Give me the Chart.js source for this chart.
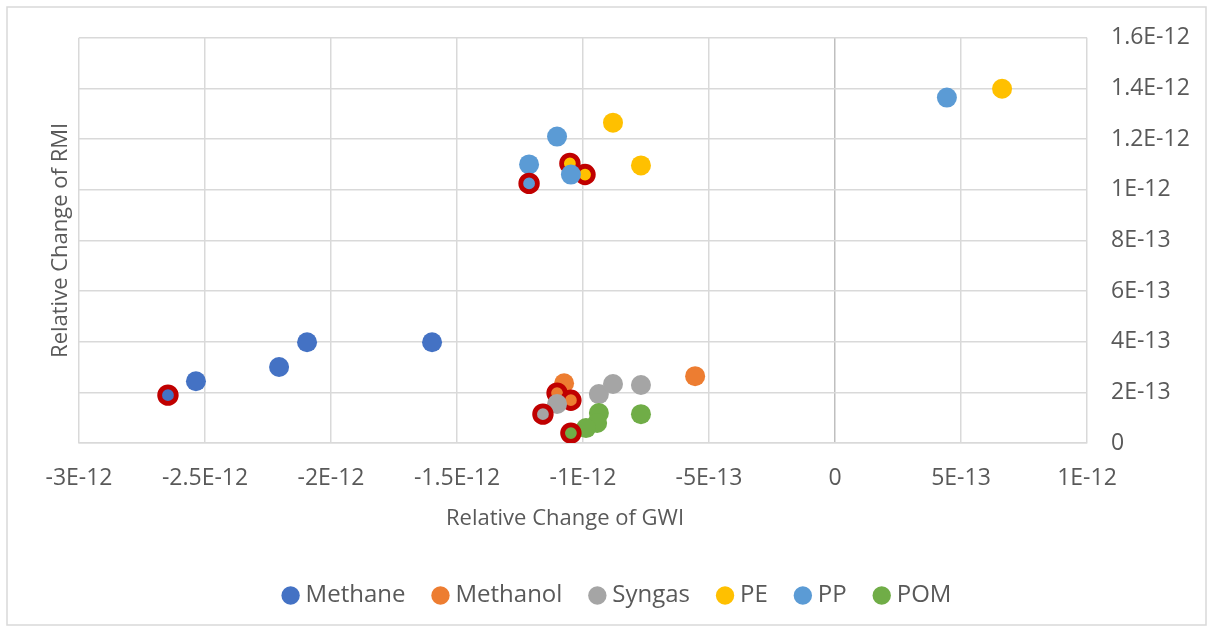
<!DOCTYPE html>
<html>
<head>
<meta charset="utf-8">
<script src="https://cdn.jsdelivr.net/npm/chart.js@4"></script>
<style>
  html, body { margin: 0; padding: 0; background: #fff; }
  canvas { display: block; }
</style>
</head>
<body>
<canvas id="rmiChart" width="1213" height="632"></canvas>
<script>
// Relative change of GWI (x) against relative change of RMI (y), per product route.
// Indices in the *Flagged lists are the points drawn with the dark red ring.
const methaneX = [-2.536e-12, -2.206e-12, -2.095e-12, -1.599e-12, -2.647e-12]
const methaneY = [2.44e-13, 3.0e-13, 3.98e-13, 3.98e-13, 1.89e-13]
const methaneFlagged = [4]

const methanolX = [-0.555e-12, -1.075e-12, -1.103e-12, -1.048e-12]
const methanolY = [2.64e-13, 2.36e-13, 1.97e-13, 1.69e-13]
const methanolFlagged = [2, 3]

const syngasX = [-0.937e-12, -0.881e-12, -0.770e-12, -1.103e-12, -1.159e-12]
const syngasY = [1.93e-13, 2.33e-13, 2.29e-13, 1.54e-13, 1.14e-13]
const syngasFlagged = [4]

const peX = [0.663e-12, -0.881e-12, -0.770e-12, -1.052e-12, -0.992e-12]
const peY = [1.399e-12, 1.265e-12, 1.096e-12, 1.104e-12, 1.060e-12]
const peFlagged = [3, 4]

const ppX = [0.444e-12, -1.103e-12, -1.214e-12, -1.048e-12, -1.214e-12]
const ppY = [1.364e-12, 1.210e-12, 1.100e-12, 1.060e-12, 1.025e-12]
const ppFlagged = [4]

const pomX = [-0.770e-12, -0.937e-12, -0.944e-12, -0.988e-12, -1.048e-12]
const pomY = [1.14e-13, 1.18e-13, 0.79e-13, 0.59e-13, 0.39e-13]
const pomFlagged = [4]

const xTickValues = [-3e-12, -2.5e-12, -2e-12, -1.5e-12, -1e-12, -0.5e-12, 0, 0.5e-12, 1e-12]
const xTickLabels = ['-3E-12', '-2.5E-12', '-2E-12', '-1.5E-12', '-1E-12', '-5E-13', '0', '5E-13', '1E-12']
const yTickValues = [0, 0.2e-12, 0.4e-12, 0.6e-12, 0.8e-12, 1e-12, 1.2e-12, 1.4e-12, 1.6e-12]
const yTickLabels = ['0', '2E-13', '4E-13', '6E-13', '8E-13', '1E-12', '1.2E-12', '1.4E-12', '1.6E-12']

const xTitle = 'Relative Change of GWI'
const yTitle = 'Relative Change of RMI'

const series = [
  { label: 'Methane',  xs: methaneX,  ys: methaneY,  flagged: methaneFlagged },
  { label: 'Methanol', xs: methanolX, ys: methanolY, flagged: methanolFlagged },
  { label: 'Syngas',   xs: syngasX,   ys: syngasY,   flagged: syngasFlagged },
  { label: 'PE',       xs: peX,       ys: peY,       flagged: peFlagged },
  { label: 'PP',       xs: ppX,       ys: ppY,       flagged: ppFlagged },
  { label: 'POM',      xs: pomX,      ys: pomY,      flagged: pomFlagged },
]

const COLORS = { Methane: '#4472C4', Methanol: '#ED7D31', Syngas: '#A5A5A5', PE: '#FFC000', PP: '#5B9BD5', POM: '#70AD47' }
const RING = '#C00000'
const GRID = '#d9d9d9'
const TEXT = '#595959'
const TICK_FONT = 23
const TITLE_FONT = 22

Chart.defaults.font.family = "'Open Sans', sans-serif"
Chart.defaults.color = TEXT

// white background + thin outline round the whole chart
const chartFrame = {
  id: 'chartFrame',
  beforeDraw(chart) {
    const { ctx, width, height } = chart
    ctx.save()
    ctx.fillStyle = '#fff'
    ctx.fillRect(0, 0, width, height)
    ctx.strokeStyle = GRID
    ctx.lineWidth = 1.5
    ctx.strokeRect(7, 7, width - 14, height - 14)
    ctx.restore()
  }
}

// GWI title sits a little left of the plot centre, so it is drawn here
// inside the space the x axis reserves for it
const gwiTitle = {
  id: 'gwiTitle',
  afterDraw(chart) {
    const { ctx } = chart
    const sx = chart.scales.x
    ctx.save()
    ctx.font = `${TITLE_FONT}px 'Open Sans', sans-serif`
    ctx.fillStyle = TEXT
    ctx.textAlign = 'center'
    ctx.textBaseline = 'middle'
    ctx.fillText(xTitle, (sx.left + sx.right) / 2 - 18, sx.top + 76)
    ctx.restore()
  }
}

const datasets = series.map((s, i) => {
  const isFlagged = c => s.flagged.includes(c.dataIndex)
  return {
    label: s.label,
    data: s.xs.map((x, k) => ({ x, y: s.ys[k] })),
    backgroundColor: COLORS[s.label],
    borderColor: c => isFlagged(c) ? RING : COLORS[s.label],
    borderWidth: c => isFlagged(c) ? 4.8 : 0,
    pointRadius: c => isFlagged(c) ? 8.3 : 10,
    pointHoverRadius: c => isFlagged(c) ? 8.3 : 10,
    // later series sit on top, like the source workbook
    order: series.length - i,
  }
})

new Chart(document.getElementById('rmiChart'), {
  type: 'scatter',
  data: { datasets },
  plugins: [chartFrame, gwiTitle],
  options: {
    responsive: false,
    animation: false,
    devicePixelRatio: 1,
    // left padding also nudges the centred legend to the right
    layout: { padding: { top: 37, left: 26, right: 0, bottom: 20.5 } },
    plugins: {
      tooltip: { enabled: false },
      legend: {
        position: 'bottom',
        maxHeight: 60,
        labels: {
          usePointStyle: true,
          pointStyle: 'circle',
          boxWidth: 6,
          boxHeight: 13,
          padding: 32,
          color: TEXT,
          font: { size: 24 },
          sort: (a, b) => a.datasetIndex - b.datasetIndex,
        }
      }
    },
    scales: {
      x: {
        type: 'linear',
        position: 'bottom',
        min: -3e-12,
        max: 1e-12,
        afterBuildTicks: s => { s.ticks = xTickValues.map(v => ({ value: v })) },
        afterFit: s => { s.height = 108.5 },
        ticks: {
          autoSkip: false,
          maxRotation: 0,
          padding: 22,
          font: { size: TICK_FONT },
          color: TEXT,
          callback: (v, i) => xTickLabels[i],
        },
        grid: {
          drawTicks: false,
          lineWidth: 1.5,
          color: c => (c.tick && c.tick.value === 0) ? '#bfbfbf' : GRID,
        },
        border: { display: true, color: GRID, width: 1.5 },
      },
      y: {
        type: 'linear',
        position: 'right',
        min: 0,
        max: 1.6e-12,
        afterBuildTicks: s => { s.ticks = yTickValues.map(v => ({ value: v })) },
        afterFit: s => { s.width = 126 },
        ticks: {
          autoSkip: false,
          padding: 24,
          font: { size: TICK_FONT },
          color: TEXT,
          callback: (v, i) => yTickLabels[i],
        },
        grid: { drawTicks: false, lineWidth: 1.5, color: GRID },
        border: { display: false },
      },
      // left-hand axis only carries the RMI title
      yTitle: {
        type: 'linear',
        position: 'left',
        min: 0,
        max: 1.6e-12,
        afterFit: s => { s.width = 53 },
        ticks: { display: false },
        grid: { display: false },
        border: { display: false },
        title: {
          display: true,
          text: yTitle,
          color: TEXT,
          font: { size: TITLE_FONT },
          padding: { top: 21.8, bottom: 0 },
        }
      }
    }
  }
})
</script>
</body>
</html>
